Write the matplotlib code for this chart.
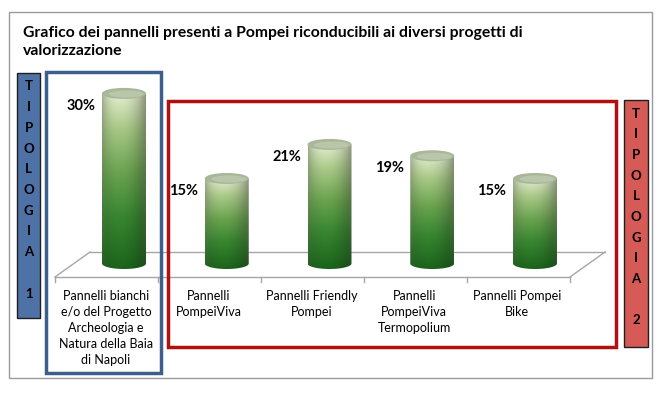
import numpy as np
import matplotlib
matplotlib.use('Agg')
import matplotlib.pyplot as plt
from matplotlib.patches import Rectangle, Ellipse, Polygon
from matplotlib.colors import to_rgb

# ---------------- data ----------------
categories = ['Pannelli bianchi\ne/o del Progetto\nArcheologia e\nNatura della Baia\ndi Napoli',
              'Pannelli\nPompeiViva',
              'Pannelli Friendly\nPompei',
              'Pannelli\nPompeiViva\nTermopolium',
              'Pannelli Pompei\nBike']
values = [30, 15, 21, 19, 15]
value_labels = ['30%', '15%', '21%', '19%', '15%']
title = 'Grafico dei pannelli presenti a Pompei riconducibili ai diversi progetti di\nvalorizzazione'
group1_label = 'T\nI\nP\nO\nL\nO\nG\nI\nA\n\n1'
group2_label = 'T\nI\nP\nO\nL\nO\nG\nI\nA\n\n2'

plt.rcParams['font.family'] = ['Lato', 'DejaVu Sans']

W, H = 670, 398
fig = plt.figure(figsize=(W / 100, H / 100), dpi=100)
fig.patch.set_facecolor('white')

# background layer (pixel coords): frame + 3d floor
bg = fig.add_axes([0, 0, 1, 1], zorder=0)
bg.set_xlim(0, W); bg.set_ylim(H, 0); bg.axis('off')
bg.add_patch(Rectangle((9, 12), 643, 366, fill=False, ec='#9a9a9a', lw=1))

back_y, front_y = 252, 277
floor_col = '#a6a6a6'
bg.plot([90, 605], [back_y, back_y], color=floor_col, lw=1)
bg.plot([55, 570], [front_y, front_y], color=floor_col, lw=1)
bg.plot([55, 90], [front_y, back_y], color=floor_col, lw=1)
bg.plot([570, 605], [front_y, back_y], color=floor_col, lw=1)
for xt in np.linspace(55, 570, 6):
    bg.plot([xt, xt], [front_y, front_y + 5], color=floor_col, lw=1)

# ---------------- data axes ----------------
px_per_cat = 102.75
first_center = 124
zero_px = 263.5
px_per_pct = 5.67
ymin, ymax = -4, 35
x0 = first_center - 0.5 * px_per_cat
ax = fig.add_axes([x0 / W, (H - zero_px + ymin * px_per_pct) / H, 5 * px_per_cat / W,
                   (ymax - ymin) * px_per_pct / H], zorder=1)
ax.set_xlim(-0.5, 4.5)
ax.set_ylim(ymin, ymax)
ax.axis('off')
ax.patch.set_alpha(0)

bw = 44 / px_per_cat          # bar width in data units
eh = 11 / px_per_pct          # ellipse height in data units

stops = [0.0, 0.3, 0.55, 0.8, 1.0]
stop_cols = np.array([to_rgb(c) for c in ['#1b641b', '#388631', '#6aa34f', '#a9c987', '#e4efd0']])

ny, nx = 220, 60
tt = np.linspace(0, 1, ny)            # 0 bottom, 1 top
ss = np.linspace(-1, 1, nx)[None, :]
vert = np.stack([np.interp(tt, stops, stop_cols[:, k]) for k in range(3)], axis=-1)[:, None, :]
grey = np.array(to_rgb('#7d8a72'))
for i, v in enumerate(values):
    col = np.broadcast_to(vert, (ny, nx, 3)).copy()
    shade = 1.0 - 0.22 * np.abs(ss + 0.2) ** 2.0
    col = col * shade[..., None]
    edge = (np.abs(ss) ** 5 * 0.45 * (0.3 + 0.7 * tt[:, None]))
    col = col * (1 - edge[..., None]) + grey * edge[..., None]
    img = np.clip(col, 0, 1)[::-1]

    th = np.linspace(np.pi, 2 * np.pi, 60)
    bx = i + bw / 2 * np.cos(th)
    by = eh / 2 * np.sin(th)
    pts = np.vstack([[i - bw / 2, v], np.column_stack([bx, by]), [i + bw / 2, v]])
    clip = Polygon(pts, closed=True, transform=ax.transData, fc='none', ec='none')
    ax.add_patch(clip)
    im = ax.imshow(img, extent=(i - bw / 2, i + bw / 2, -eh / 2, v), aspect='auto',
                   interpolation='bilinear', zorder=2)
    im.set_clip_path(clip)
    ax.add_patch(Ellipse((i, v), bw, eh, fc='#a9b699', ec='none', zorder=3))
    ax.add_patch(Ellipse((i + 0.02, v - eh * 0.05), bw * 0.8, eh * 0.65, fc='#b9c6aa', ec='none', zorder=3))

    ax.annotate(value_labels[i], xy=(i, v), xytext=(-43, -12.5), textcoords='offset pixels',
                ha='center', va='center', fontsize=10.5, fontweight='bold', color='black',
                annotation_clip=False)
    ax.annotate(categories[i], xy=(i, 0), xytext=(-18, -27), textcoords='offset pixels',
                ha='center', va='top', multialignment='center', fontsize=9, color='black',
                linespacing=1.4, annotation_clip=False)
ax.set_ylim(ymin, ymax)

# ---------------- foreground layer ----------------
fg = fig.add_axes([0, 0, 1, 1], zorder=2)
fg.set_xlim(0, W); fg.set_ylim(H, 0); fg.axis('off')
fg.patch.set_alpha(0)

fg.text(23, 42, title, ha='left', va='center', fontsize=11.3, fontweight='bold',
        linespacing=1.38)

fg.add_patch(Rectangle((17, 73), 23, 245, fc='#4f72a6', ec='#1f1f1f', lw=1))
fg.text(28.5, 190, group1_label, ha='center', va='center', fontsize=9.5, fontweight='bold',
        linespacing=1.87)
fg.add_patch(Rectangle((46, 72), 115, 301, fill=False, ec='#3c5f8c', lw=2.5))
fg.add_patch(Rectangle((168, 101), 448, 246, fill=False, ec='#b01010', lw=2.5))
fg.add_patch(Rectangle((624, 100), 24, 247, fc='#d65a55', ec='#1f1f1f', lw=1))
fg.text(636, 217, group2_label, ha='center', va='center', fontsize=9.5, fontweight='bold',
        linespacing=1.87)

fig.savefig('out.png', dpi=100, facecolor='white')
